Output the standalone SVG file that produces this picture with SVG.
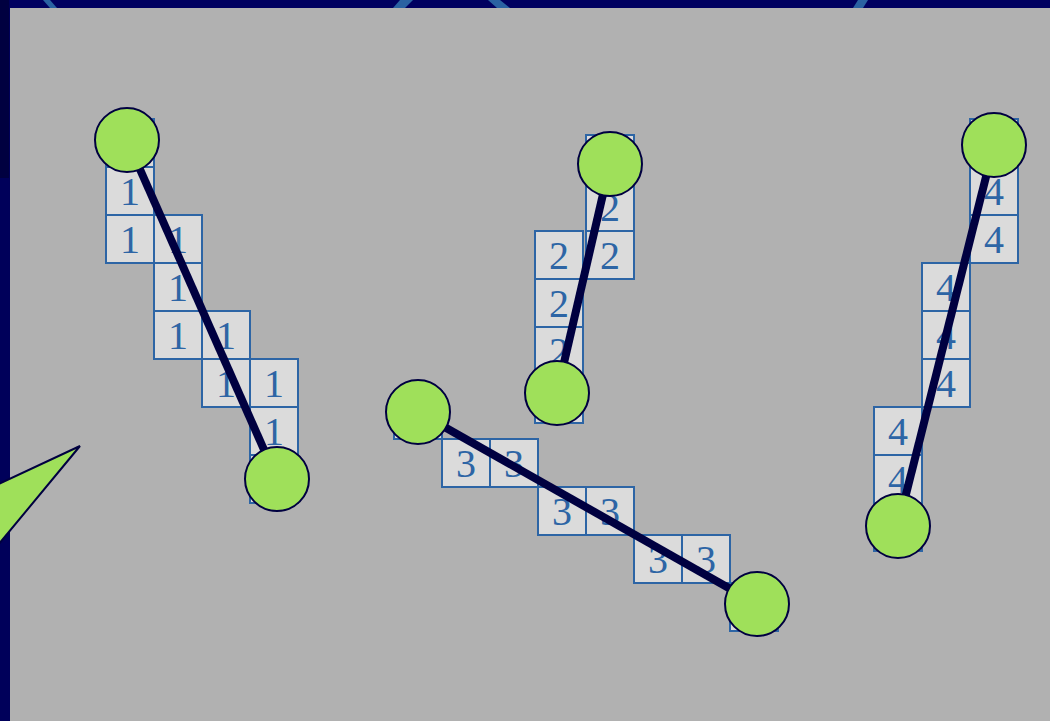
<svg xmlns="http://www.w3.org/2000/svg" width="1050" height="721" viewBox="0 0 1050 721">
<style>
.cr{fill:#dbdbdb;stroke:#2d65a5;stroke-width:2}
.ct{font-family:"Liberation Serif","Times New Roman",serif;font-size:40px;fill:#2d65a5;text-anchor:middle}
.node circle{fill:#9fe05a;stroke:#000040;stroke-width:2}
.edge line{stroke:#000040;stroke-width:8;stroke-linecap:butt}
.tick{fill:#2a62a2}
</style>
<defs>
<g id="c1"><rect class="cr" x="0" y="0" width="48" height="48"/><text class="ct" x="24" y="38">1</text></g>
<g id="c2"><rect class="cr" x="0" y="0" width="48" height="48"/><text class="ct" x="24" y="38">2</text></g>
<g id="c3"><rect class="cr" x="0" y="0" width="48" height="48"/><text class="ct" x="24" y="38">3</text></g>
<g id="c4"><rect class="cr" x="0" y="0" width="48" height="48"/><text class="ct" x="24" y="38">4</text></g>
</defs>
<rect x="0" y="0" width="1050" height="721" fill="#b1b1b1"/>
<rect x="0" y="0" width="1050" height="8" fill="#000060"/>
<rect x="0" y="0" width="10" height="721" fill="#00005a"/>
<rect x="0" y="0" width="9" height="178" fill="#000040"/>
<g id="top-fragments">
<polygon class="tick" points="43,0 50,0 57,8 50,8"/>
<polygon class="tick" points="400,0 413,0 405,8 393,8"/>
<polygon class="tick" points="488,0 500,0 510,8 497,8"/>
<polygon class="tick" points="858,0 868,0 863,8 853,8"/>
</g>
<g id="pointer">
<polygon points="80,446 -40,502 -40,591" fill="#9fe05a" stroke="#000040" stroke-width="2" stroke-linejoin="miter"/>
</g>
<g id="cells1">
<use href="#c1" x="106" y="119"/><use href="#c1" x="106" y="167"/><use href="#c1" x="106" y="215"/>
<use href="#c1" x="154" y="215"/><use href="#c1" x="154" y="263"/><use href="#c1" x="154" y="311"/>
<use href="#c1" x="202" y="311"/><use href="#c1" x="202" y="359"/>
<use href="#c1" x="250" y="359"/><use href="#c1" x="250" y="407"/><use href="#c1" x="250" y="455"/>
</g>
<g id="cells2">
<use href="#c2" x="586" y="135"/><use href="#c2" x="586" y="183"/><use href="#c2" x="586" y="231"/>
<use href="#c2" x="535" y="231"/><use href="#c2" x="535" y="279"/><use href="#c2" x="535" y="327"/><use href="#c2" x="535" y="375"/>
</g>
<g id="cells3">
<use href="#c3" x="394" y="391"/>
<use href="#c3" x="442" y="439"/><use href="#c3" x="490" y="439"/>
<use href="#c3" x="538" y="487"/><use href="#c3" x="586" y="487"/>
<use href="#c3" x="634" y="535"/><use href="#c3" x="682" y="535"/>
<use href="#c3" x="730" y="583"/>
</g>
<g id="cells4">
<use href="#c4" x="970" y="119"/><use href="#c4" x="970" y="167"/><use href="#c4" x="970" y="215"/>
<use href="#c4" x="922" y="263"/><use href="#c4" x="922" y="311"/><use href="#c4" x="922" y="359"/>
<use href="#c4" x="874" y="407"/><use href="#c4" x="874" y="455"/><use href="#c4" x="874" y="503"/>
</g>
<g id="connectors" class="edge">
<line x1="127" y1="140" x2="277" y2="479"/>
<line x1="610" y1="164" x2="557" y2="393"/>
<line x1="418" y1="412" x2="757" y2="604"/>
<line x1="994" y1="145" x2="898" y2="526"/>
</g>
<g id="n1a" class="node"><circle cx="127" cy="140" r="32"/></g>
<g id="n1b" class="node"><circle cx="277" cy="479" r="32"/></g>
<g id="n2a" class="node"><circle cx="610" cy="164" r="32"/></g>
<g id="n2b" class="node"><circle cx="557" cy="393" r="32"/></g>
<g id="n3a" class="node"><circle cx="418" cy="412" r="32"/></g>
<g id="n3b" class="node"><circle cx="757" cy="604" r="32"/></g>
<g id="n4a" class="node"><circle cx="994" cy="145" r="32"/></g>
<g id="n4b" class="node"><circle cx="898" cy="526" r="32"/></g>
</svg>
